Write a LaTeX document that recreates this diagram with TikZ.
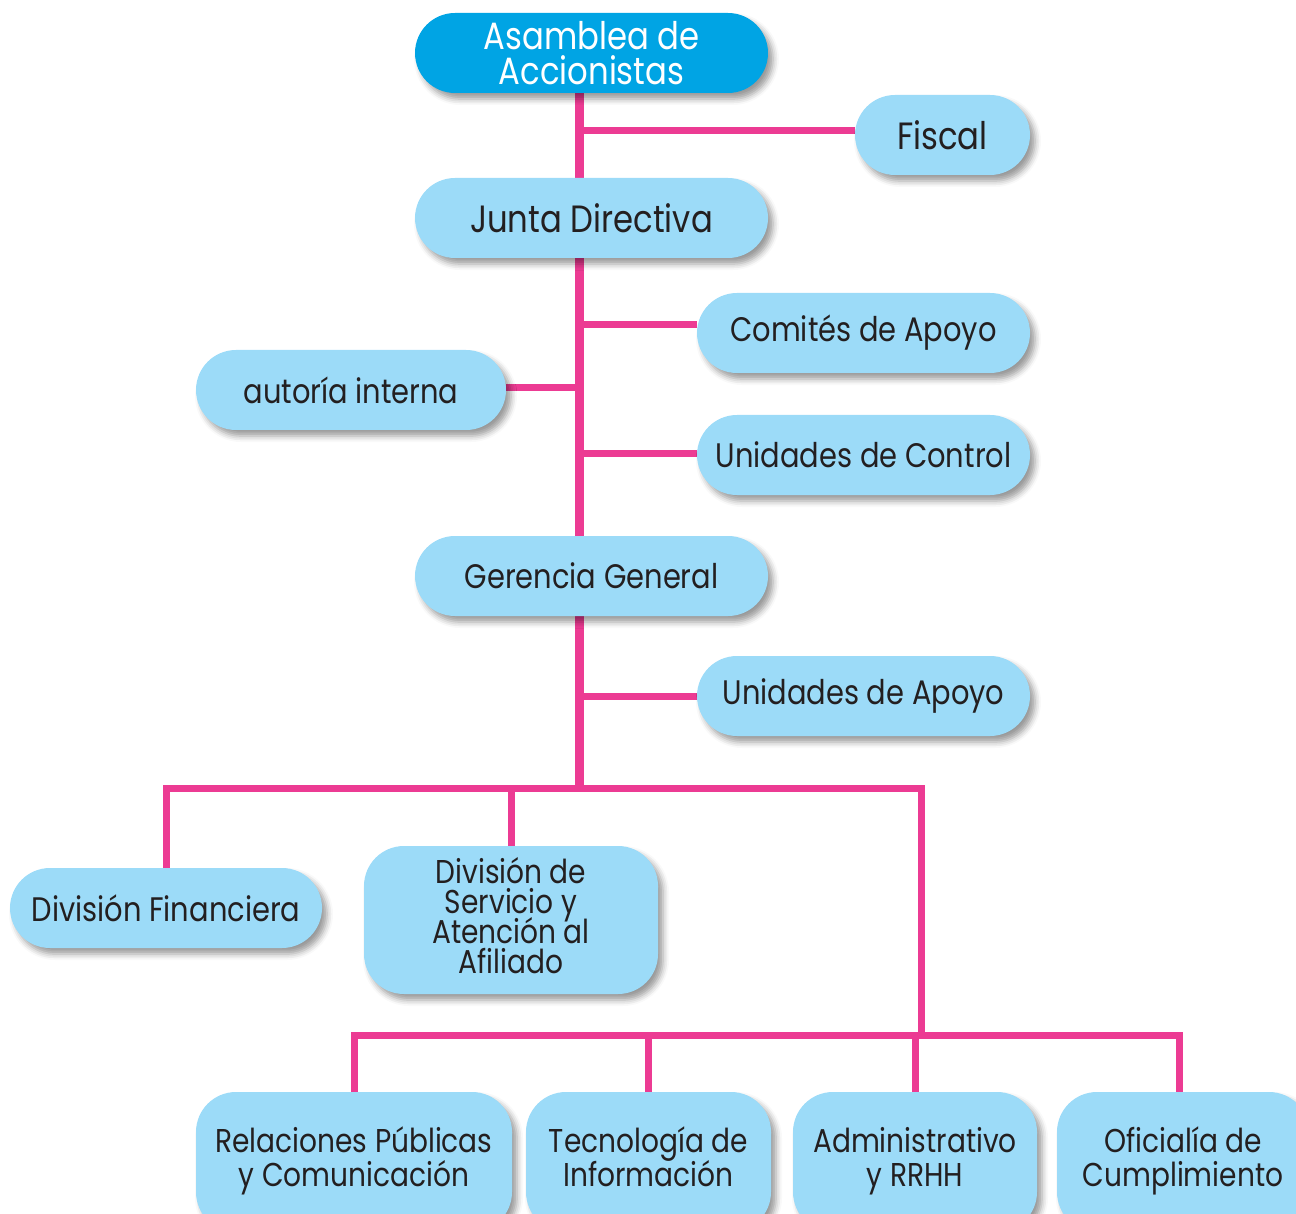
\documentclass[tikz,border=0pt]{standalone}
\usepackage{fontspec}
\setmainfont{Poppins}[FakeStretch=0.85]
\usetikzlibrary{shadows.blur}
\definecolor{barpink}{HTML}{EC3B93}
\definecolor{lightblue}{HTML}{9CDBF8}
\definecolor{darkblue}{HTML}{00A4E4}
\definecolor{txt}{HTML}{231F20}
\pgfdeclarelayer{bg}
\pgfsetlayers{bg,main}
\begin{document}
\lineskiplimit=-100pt
\begin{tikzpicture}[x=1pt,y=-1pt,
  box/.style={fill=lightblue, rounded corners=40pt, inner sep=0pt, align=center, text=txt,
    blur shadow={shadow xshift=5pt, shadow yshift=-6pt, shadow blur radius=6pt, shadow opacity=40}},
  dark/.style={box, fill=darkblue, text=white},
  big/.style={font=\fontsize{38}{35}\selectfont},
  mid/.style={font=\fontsize{34}{30}\selectfont},
  small/.style={font=\fontsize{33}{34}\selectfont},
  bar/.style={draw=barpink, line width=7pt, line join=miter},
  trunkbar/.style={draw=barpink, line width=9pt}]
\useasboundingbox (0,0) rectangle (1296,1214);
\clip (0,0) rectangle (1296,1214);
\node[dark, big, minimum width=353pt, minimum height=80pt] (asam) at (591.5,53) {Asamblea de\\Accionistas};
\node[box, big, minimum width=175pt, minimum height=80pt] (fiscal) at (942.5,135) {Fiscal};
\node[box, big, minimum width=353pt, minimum height=80pt] (junta) at (591.5,218) {Junta Directiva};
\node[box, mid, minimum width=333pt, minimum height=80pt] (comites) at (863.5,333) {Comités de Apoyo};
\node[box, mid, minimum width=310pt, minimum height=80pt] (autoria) at (351,390) {autoría interna};
\node[box, mid, minimum width=333pt, minimum height=80pt] (unidc) at (863.5,455) {Unidades de Control};
\node[box, mid, minimum width=353pt, minimum height=80pt] (geren) at (591.5,576) {Gerencia General};
\node[box, mid, minimum width=333pt, minimum height=80pt] (unida) at (863.5,696) {Unidades de Apoyo};
\node[box, mid, minimum width=312pt, minimum height=80pt] (divfin) at (166,908) {División Financiera};
\node[box, font=\fontsize{33}{30}\selectfont, minimum width=294pt, minimum height=148pt] (divserv) at (511,920) {División de\\Servicio y\\Atención al\\Afiliado\strut};
\node[box, small, minimum width=316pt, minimum height=140pt] (relac) at (354,1162) {Relaciones Públicas\\y Comunicación\strut};
\node[box, small, minimum width=245pt, minimum height=140pt] (tecno) at (648.5,1162) {Tecnología de\\Información\strut};
\node[box, small, minimum width=244pt, minimum height=140pt] (admin) at (915,1162) {Administrativo\\y RRHH\strut};
\node[box, small, minimum width=252pt, minimum height=140pt] (ofic) at (1183,1162) {Oficialía de\\Cumplimiento\strut};
\coordinate (trk) at (579,0);
\coordinate (bus) at (579,788);
\coordinate (busR) at (921,788);
\coordinate (bus2) at (921,1035);
\begin{pgfonlayer}{bg}
  \draw[trunkbar] (asam.south -| trk) -- (bus) -- ++(0,4);
  \draw[bar] ([yshift=4pt]fiscal.west) coordinate (f1) -- (f1 -| trk);
  \draw[bar] ([yshift=8pt]comites.west) coordinate (c1) -- (c1 -| trk);
  \draw[bar] ([yshift=2pt]autoria.east) coordinate (a1) -- (a1 -| trk);
  \draw[bar] ([yshift=2pt]unidc.west) coordinate (u1) -- (u1 -| trk);
  \draw[bar] (unida.west) -- (unida.west -| trk);
  \draw[bar] (divfin.north) -- (divfin.north |- bus) -- (busR) -- (bus2);
  \draw[bar] (divserv.north) -- (divserv.north |- bus);
  \coordinate (o1) at ([xshift=-4pt]ofic.north);
  \draw[bar] (relac.north) -- (relac.north |- bus2) -- (o1 |- bus2) -- (o1);
  \draw[bar] (tecno.north) -- (tecno.north |- bus2);
  \draw[bar] (admin.north) -- (admin.north |- bus2);
\end{pgfonlayer}
\end{tikzpicture}
\end{document}
